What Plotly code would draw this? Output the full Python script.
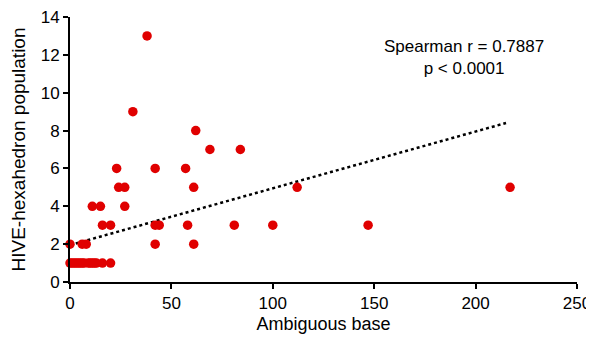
import plotly.graph_objects as go

ambiguous_base = [0, 1, 2, 3, 4, 5, 6, 7, 9, 10, 11, 12, 13, 16, 20,
                  0, 6, 8, 42, 61,
                  16, 20, 42, 44, 58, 81, 100, 147,
                  11, 15, 27,
                  24, 27, 61, 112, 217,
                  23, 42, 57,
                  69, 84,
                  62,
                  31,
                  38]
hive_population = [1, 1, 1, 1, 1, 1, 1, 1, 1, 1, 1, 1, 1, 1, 1,
                   2, 2, 2, 2, 2,
                   3, 3, 3, 3, 3, 3, 3, 3,
                   4, 4, 4,
                   5, 5, 5, 5, 5,
                   6, 6, 6,
                   7, 7,
                   8,
                   9,
                   13]
trend_x = [0, 215]
trend_y = [1.95, 8.4]
x_ticks = [0, 50, 100, 150, 200, 250]
y_ticks = [0, 2, 4, 6, 8, 10, 12, 14]

fig = go.Figure()
fig.add_trace(go.Scatter(x=trend_x, y=trend_y, mode="lines",
                         line=dict(color="black", width=2.5, dash="dot"),
                         hoverinfo="skip", showlegend=False))
fig.add_trace(go.Scatter(x=ambiguous_base, y=hive_population, mode="markers",
                         marker=dict(color="#e00000", size=9.5, line=dict(width=0)),
                         cliponaxis=False, showlegend=False))

font = "Liberation Sans, Arial, sans-serif"
fig.update_layout(
    width=594, height=340,
    margin=dict(l=62, r=25, t=9, b=66),
    paper_bgcolor="white", plot_bgcolor="white",
    font=dict(family=font, size=17, color="black"),
    xaxis=dict(range=[0, 250], tickvals=x_ticks, showgrid=False, zeroline=False,
               showline=True, linecolor="black", linewidth=2, automargin=False,
               ticks="outside", ticklen=5, tickwidth=2, tickcolor="black",
               tickfont=dict(size=17), ticklabeloverflow="allow",
               title=dict(text="Ambiguous base", font=dict(size=18), standoff=5)),
    yaxis=dict(range=[0, 14], tickvals=y_ticks, showgrid=False, zeroline=False,
               showline=True, linecolor="black", linewidth=2, automargin=False,
               ticks="outside", ticklen=5, tickwidth=2, tickcolor="black",
               tickfont=dict(size=17), ticklabeloverflow="allow",
               title=dict(text="HIVE-hexahedron population", font=dict(size=19), standoff=12)),
    annotations=[dict(text="Spearman r = 0.7887<br>p < 0.0001",
                      x=(464 - 70) / 507 * 250, y=(282 - 57.5) / 265,
                      xref="x", yref="paper", showarrow=False,
                      xanchor="center", yanchor="middle",
                      font=dict(size=17, family=font), align="center")],
)
fig.write_html("out.html")
